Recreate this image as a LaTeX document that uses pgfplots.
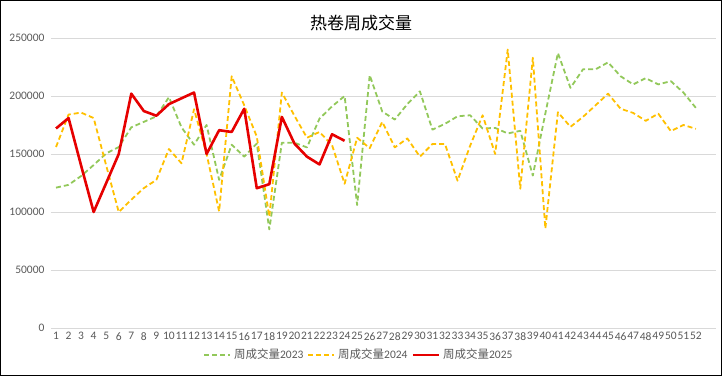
\documentclass[border=0pt]{standalone}
\usepackage{pgfplots}
\pgfplotsset{compat=1.18}
\usepackage{fontspec}
\setmainfont{Carlito}
\newfontfamily\cjk{Noto Sans CJK SC}
\definecolor{gr}{HTML}{92C85A}
\definecolor{yl}{HTML}{FFC000}
\definecolor{rd}{HTML}{E60000}
\definecolor{lab}{HTML}{595959}
\definecolor{grd}{HTML}{D9D9D9}
\begin{document}
\begin{tikzpicture}[x=1pt,y=1pt]
\useasboundingbox (0,0) rectangle (722,377);
\draw[black,line width=1.3pt] (0.65,1.5) rectangle (721.35,376.35);
\node[font=\cjk\fontsize{17}{19}\selectfont,text=black] at (361,354) {热卷周成交量};
\begin{axis}[
  at={(51pt,49pt)}, anchor=south west,
  width=665pt, height=290pt, scale only axis,
  xmin=0.6, xmax=53.6, ymin=0, ymax=250000,
  axis line style={draw=none},
  xtick={1,...,52}, ytick={0,50000,...,250000},
  major tick length=0pt,
  ymajorgrids, grid style={grd,line width=0.8pt},
  /pgf/number format/.cd, fixed, 1000 sep={}, assume math mode=true,
  /pgfplots/.cd,
  ticklabel style={font=\fontsize{11.5}{13}\selectfont,text=lab},
  yticklabel style={xshift=-3pt},
  xticklabel style={yshift=-1pt, inner xsep=0pt},
  scaled y ticks=false,
  legend style={at={(0.463,-0.0925)}, anchor=center, draw=none, fill=none,
    font=\fontsize{11.5}{13}\selectfont, text=lab, column sep=1pt,
    /tikz/every even column/.append style={column sep=2pt}},
  legend columns=3,
  legend image code/.code={\draw[#1] (0pt,0pt) -- (26pt,0pt);},
  clip=false,
]
\addplot[gr, line width=1.8pt, dash pattern=on 5pt off 3pt, line join=round] coordinates {
(1,121000)(2,123400)(3,131000)(4,140500)(5,150500)(6,156000)(7,173000)(8,177700)
(9,182500)(10,199000)(11,173000)(12,158000)(13,175000)(14,127700)(15,158000)(16,147700)
(17,159000)(18,85000)(19,159700)(20,159700)(21,155700)(22,180500)(23,191000)(24,200000)
(25,106000)(26,218000)(27,186600)(28,179700)(29,193000)(30,204000)(31,171000)(32,176000)
(33,182500)(34,183400)(35,172000)(36,172500)(37,167700)(38,170000)(39,131400)(40,185000)
(41,237000)(42,207000)(43,223000)(44,223000)(45,229000)(46,217000)(47,210000)(48,215400)
(49,210000)(50,212800)(51,203000)(52,189700)};
\addlegendentry{{\cjk 周成交量}2023}
\addplot[yl, line width=1.8pt, dash pattern=on 5pt off 3pt, line join=round] coordinates {
(1,156000)(2,184000)(3,185700)(4,181000)(5,140000)(6,100000)(7,110600)(8,120600)
(9,127700)(10,154300)(11,142000)(12,188600)(13,150000)(14,100500)(15,217000)(16,192000)
(17,165000)(18,96000)(19,203000)(20,183000)(21,164000)(22,169000)(23,157700)(24,124300)
(25,164000)(26,155000)(27,177700)(28,155700)(29,163400)(30,147700)(31,158600)(32,158600)
(33,127000)(34,157000)(35,183400)(36,150000)(37,240000)(38,120000)(39,233000)(40,85700)
(41,186000)(42,173400)(43,182000)(44,192000)(45,202000)(46,189000)(47,185400)(48,178600)
(49,184800)(50,169700)(51,175000)(52,171700)};
\addlegendentry{{\cjk 周成交量}2024}
\addplot[rd, line width=2.6pt, line join=round] coordinates {
(1,172000)(2,181000)(3,140000)(4,100000)(5,125000)(6,150000)(7,202000)(8,187000)
(9,183000)(10,193000)(11,198000)(12,203000)(13,150000)(14,170500)(15,169000)(16,189000)
(17,120500)(18,124000)(19,182000)(20,159000)(21,147700)(22,141000)(23,167000)(24,161400)};
\addlegendentry{{\cjk 周成交量}2025}
\end{axis}
\end{tikzpicture}
\end{document}
